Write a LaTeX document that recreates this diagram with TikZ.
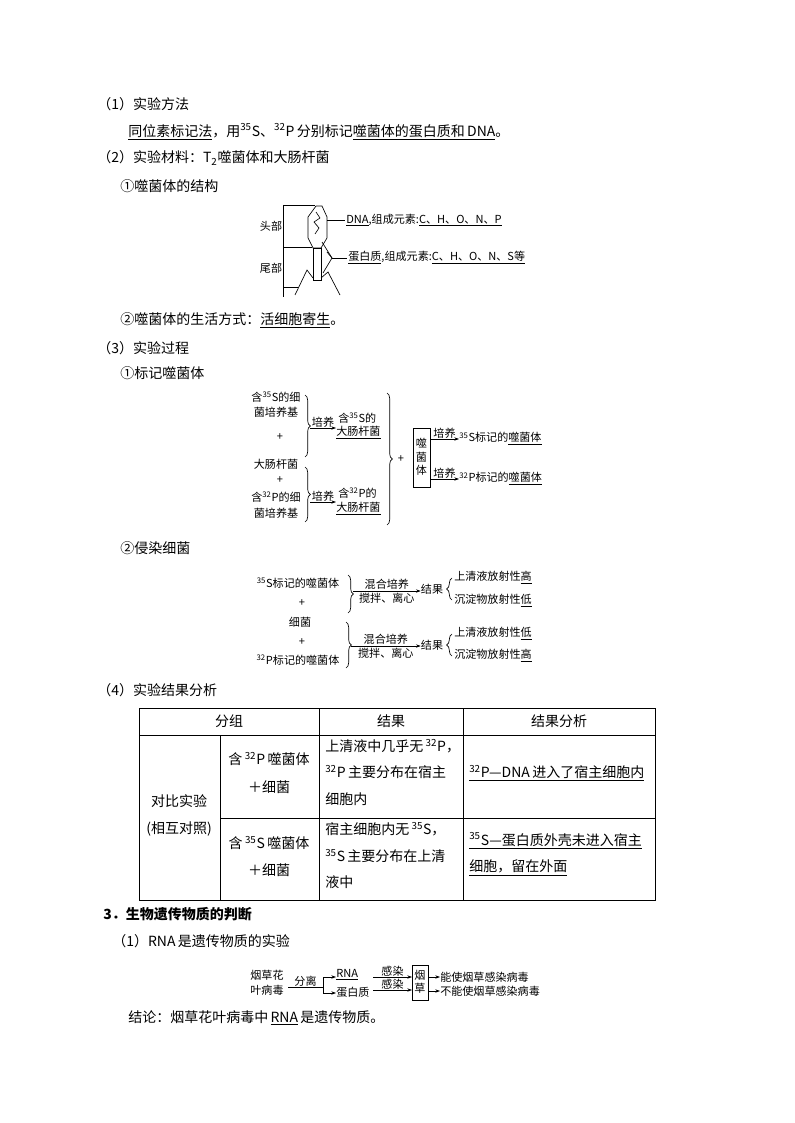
\documentclass[tikz,border=0pt]{standalone}
\usepackage{fontspec}
\setmainfont{Liberation Serif}
\newfontfamily\cjk{Noto Sans CJK SC}
\usetikzlibrary{decorations.pathreplacing,arrows.meta}
\newcommand{\su}[1]{\textsuperscript{#1}}
\newcommand{\ul}[1]{\underline{#1}}
\tikzset{
 body/.style={font=\cjk\fontsize{10.5}{13}\selectfont,inner sep=0pt,anchor=west},
 small/.style={font=\cjk\fontsize{8.3}{10}\selectfont,inner sep=0pt},
 ln/.style={line width=0.5pt},
 arr/.style={line width=0.5pt,-{Stealth[length=3.5pt,width=2.5pt]}},
 brc/.style={line width=0.5pt,decorate,decoration={brace,amplitude=4pt}},
}
\begin{document}
\begin{tikzpicture}[x=0.75pt,y=-0.75pt]
\useasboundingbox (0,0) rectangle (794,1123);
\fill[white] (0,0) rectangle (794,1123);
% text lines
\node[body] (t1) at (97,104) {（1）实验方法};
\node[body] (t2) at (128,132) {\ul{同位素标记法}，用\su{35}S、\su{32}P\,分别标记\ul{噬菌体的蛋白质和\,DNA}。};
\node[body] (t3) at (97,158) {（2）实验材料：T\textsubscript{2}噬菌体和大肠杆菌};
\node[body] (t4) at (120,186) {①噬菌体的结构};
% phage
\draw[ln] (316,206)--(322,206)--(327,217)--(327,238)--(321,248)--(313,248)--(308,238)--(308,217)--cycle;
\draw[ln] (316,212)--(320,218)--(314,222)--(319,228)--(315,234);
\draw[ln] (313,248) rectangle (321,280);
\draw[ln] (313,278)--(307,270)--(295,295);
\draw[ln] (321,278)--(328,272)--(340,295);
\draw[ln] (322,242)--(332,258)--(323,273);
\draw[ln] (283,205)--(283,297);
\draw[ln] (283,205)--(315,205);
\draw[ln] (283,247)--(312,247);
\draw[ln] (283,287)--(298,287);
\node[small] (head) at (271,226) {头部};
\node[small] (tail) at (271,268) {尾部};
\draw[ln] (327,220)--(345,220);
\node[small,anchor=west] (dna) at (346,220) {\ul{DNA},组成元素:\ul{C、H、O、N、P}};
\draw[ln] (332,258)--(347,258);
\draw[ln] (327,252)--(332,258);
\node[small,anchor=west] (prot) at (348,258) {\ul{蛋白质},组成元素:\ul{C、H、O、N、S等}};
\node[body] (t5) at (120,320) {②噬菌体的生活方式：\ul{活细胞寄生}。};
\node[body] (t6) at (97,348) {（3）实验过程};
\node[body] (t7) at (120,373) {①标记噬菌体};
% labeling
\node[small] (a1) at (276,397) {含\su{35}S的细};
\node[small] (a2) at (276,412) {菌培养基};
\node[small] (a3) at (280,437) {+};
\node[small] (a4) at (276,464) {大肠杆菌};
\node[small] (a5) at (280,480) {+};
\node[small] (a6) at (276,497) {含\su{32}P的细};
\node[small] (a7) at (276,513) {菌培养基};
\draw[brc] (305,395)--(305,457);
\draw[brc] (305,467)--(305,522);
\coordinate (b1) at (310,428); \coordinate (b2) at (310,502);
\node[small,anchor=west] (c1a) at (338,418) {含\su{35}S的};
\node[small,anchor=west] (c1) at (336,433) {\ul{大肠杆菌}};
\node[small,anchor=west] (c2a) at (338,493) {含\su{32}P的};
\node[small,anchor=west] (c2) at (336,509) {\ul{大肠杆菌}};
\draw[arr] (b1)--(c1.west|-b1) node[midway,above=0pt,small]{培养};
\draw[arr] (b2)--(c2.west|-b2) node[midway,above=0pt,small]{培养};
\draw[brc] (387,393)--(387,525);
\node[small] (plus) at (401,459) {+};
\draw[ln] (413,428) rectangle (430,487);
\node[small,align=center] (box) at (421.5,457) {噬\\菌\\体};
\node[small,anchor=west] (d1) at (459,439) {\su{35}S标记的\ul{噬菌体}};
\node[small,anchor=west] (d2) at (459,479) {\su{32}P标记的\ul{噬菌体}};
\draw[arr] (430,439)--(d1.west) node[midway,above=0pt,small]{培养};
\draw[arr] (430,479)--(d2.west) node[midway,above=0pt,small]{培养};
\node[body] (t8) at (120,548) {②侵染细菌};
% infection
\node[small] (e1) at (298,583) {\su{35}S标记的噬菌体};
\node[small] (e2) at (302,603) {+};
\node[small] (e3) at (300,622) {细菌};
\node[small] (e4) at (302,642) {+};
\node[small] (e5) at (298,660) {\su{32}P标记的噬菌体};
\draw[brc] (348,575)--(348,613);
\draw[brc] (346,622)--(346,668);
\node[small] (r1) at (432,589) {结果};
\node[small] (r2) at (432,645) {结果};
\draw[arr] (353,591)--(r1.west|-0,591) node[midway,above=1pt,small]{混合培养} node[midway,below=1pt,small]{搅拌、离心};
\draw[arr] (351,646)--(r2.west|-0,646) node[midway,above=1pt,small]{混合培养} node[midway,below=1pt,small]{搅拌、离心};
\draw[brc] (452,600)--(452,578);
\draw[brc] (452,656)--(452,634);
\node[small,anchor=west] (f1) at (454,578) {上清液放射性\ul{高}};
\node[small,anchor=west] (f2) at (454,601) {沉淀物放射性\ul{低}};
\node[small,anchor=west] (f3) at (454,634) {上清液放射性\ul{低}};
\node[small,anchor=west] (f4) at (454,656) {沉淀物放射性\ul{高}};
\node[body] (t9) at (97,690) {（4）实验结果分析};
% table
\draw[ln] (139,708) rectangle (655,900);
\draw[ln] (139,735)--(655,735);
\draw[ln] (220,818)--(655,818);
\draw[ln] (220,735)--(220,900);
\draw[ln] (319,708)--(319,900);
\draw[ln] (463,708)--(463,900);
\node[body,anchor=center] (h1) at (229,721) {分组};
\node[body,anchor=center] (h2) at (391,721) {结果};
\node[body,anchor=center] (h3) at (559,721) {结果分析};
\node[body,anchor=center] (g1) at (179,801) {对比实验};
\node[body,anchor=center] (g2) at (179,829) {(相互对照)};
\node[body,anchor=center] (p1) at (269,759) {含\,\su{32}P\,噬菌体};
\node[body,anchor=center] (p2) at (269,787) {＋细菌};
\node[body,anchor=center] (s1) at (269,843) {含\,\su{35}S\,噬菌体};
\node[body,anchor=center] (s2) at (269,870) {＋细菌};
\node[body] (q1) at (325,746) {上清液中几乎无\,\su{32}P，};
\node[body] (q2) at (325,772) {\su{32}P\,主要分布在宿主};
\node[body] (q3) at (325,799) {细胞内};
\node[body] (q4) at (325,829) {宿主细胞内无\,\su{35}S，};
\node[body] (q5) at (325,856) {\su{35}S\,主要分布在上清};
\node[body] (q6) at (325,882) {液中};
\node[body] (w1) at (469,773) {\ul{\su{32}P—DNA\,进入了宿主细胞内}};
\node[body] (w2) at (469,841) {\ul{\su{35}S—蛋白质外壳未进入宿主}};
\node[body] (w3) at (469,868) {\ul{细胞，留在外面}};
\node[body,font=\cjk\bfseries\fontsize{10.5}{13}\selectfont] (t10) at (103,914) {3．生物遗传物质的判断};
\node[body] (t11) at (112,941) {（1）RNA\,是遗传物质的实验};
% RNA diagram
\node[small] (v1) at (267,975) {烟草花};
\node[small] (v2) at (267,990) {叶病毒};
\node[small,anchor=west] (rna) at (336,975) {\ul{RNA}};
\node[small,anchor=west] (pr) at (336,992) {蛋白质};
\draw[ln] (288,987)--(323,987) node[midway,above=0pt,small]{分离};
\draw[arr] (323,987)--(323,977)--(rna.west|-0,977);
\draw[arr] (323,987)--(323,993)--(pr.west|-0,993);
\draw[ln] (412,965) rectangle (428,1000);
\node[small,align=center] (yc) at (420,982) {烟\\草};
\draw[arr] (373,977)--(412,977) node[midway,above=0pt,small]{感染};
\draw[arr] (373,990)--(412,990) node[midway,above=0pt,small]{感染};
\node[small,anchor=west] (o1) at (440,977) {能使烟草感染病毒};
\node[small,anchor=west] (o2) at (440,991) {不能使烟草感染病毒};
\draw[arr] (428,977)--(o1.west);
\draw[arr] (428,991)--(o2.west);
\node[body] (t12) at (128,1018) {结论：烟草花叶病毒中\,\ul{RNA}\,是遗传物质。};
\end{tikzpicture}
\end{document}
